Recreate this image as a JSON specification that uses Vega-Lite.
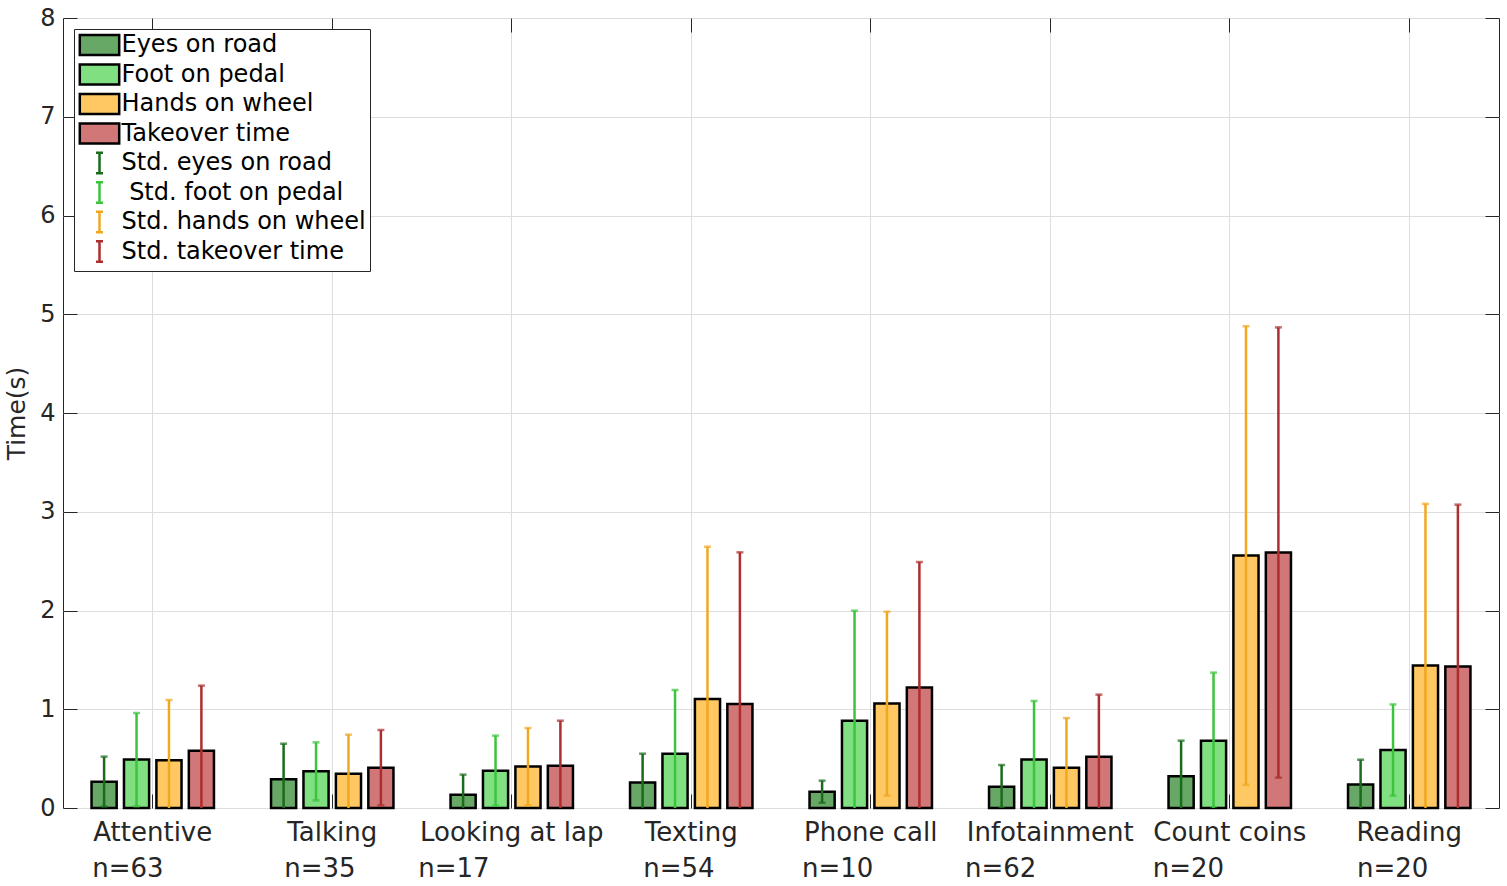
{
  "$schema": "https://vega.github.io/schema/vega-lite/v6.json",
  "width": 1436,
  "height": 790,
  "autosize": "none",
  "padding": {"left": 63, "top": 18, "right": 8, "bottom": 78},
  "background": "white",
  "data": {
    "values": [
      {"task": "Attentive", "n": 63, "measure": "Eyes on road", "mean": 0.267, "lo": 0.014, "hi": 0.52},
      {"task": "Attentive", "n": 63, "measure": "Foot on pedal", "mean": 0.49, "lo": 0.018, "hi": 0.962},
      {"task": "Attentive", "n": 63, "measure": "Hands on wheel", "mean": 0.483, "lo": -0.128, "hi": 1.094},
      {"task": "Attentive", "n": 63, "measure": "Takeover time", "mean": 0.581, "lo": -0.077, "hi": 1.239},
      {"task": "Talking", "n": 35, "measure": "Eyes on road", "mean": 0.29, "lo": -0.071, "hi": 0.651},
      {"task": "Talking", "n": 35, "measure": "Foot on pedal", "mean": 0.371, "lo": 0.077, "hi": 0.665},
      {"task": "Talking", "n": 35, "measure": "Hands on wheel", "mean": 0.348, "lo": -0.047, "hi": 0.743},
      {"task": "Talking", "n": 35, "measure": "Takeover time", "mean": 0.408, "lo": 0.026, "hi": 0.79},
      {"task": "Looking at lap", "n": 17, "measure": "Eyes on road", "mean": 0.135, "lo": -0.068, "hi": 0.338},
      {"task": "Looking at lap", "n": 17, "measure": "Foot on pedal", "mean": 0.378, "lo": 0.023, "hi": 0.733},
      {"task": "Looking at lap", "n": 17, "measure": "Hands on wheel", "mean": 0.419, "lo": 0.028, "hi": 0.81},
      {"task": "Looking at lap", "n": 17, "measure": "Takeover time", "mean": 0.429, "lo": -0.026, "hi": 0.884},
      {"task": "Texting", "n": 54, "measure": "Eyes on road", "mean": 0.257, "lo": -0.036, "hi": 0.55},
      {"task": "Texting", "n": 54, "measure": "Foot on pedal", "mean": 0.55, "lo": -0.095, "hi": 1.195},
      {"task": "Texting", "n": 54, "measure": "Hands on wheel", "mean": 1.104, "lo": -0.438, "hi": 2.646},
      {"task": "Texting", "n": 54, "measure": "Takeover time", "mean": 1.053, "lo": -0.483, "hi": 2.589},
      {"task": "Phone call", "n": 10, "measure": "Eyes on road", "mean": 0.165, "lo": 0.053, "hi": 0.277},
      {"task": "Phone call", "n": 10, "measure": "Foot on pedal", "mean": 0.884, "lo": -0.23, "hi": 1.998},
      {"task": "Phone call", "n": 10, "measure": "Hands on wheel", "mean": 1.057, "lo": 0.126, "hi": 1.988},
      {"task": "Phone call", "n": 10, "measure": "Takeover time", "mean": 1.219, "lo": -0.053, "hi": 2.491},
      {"task": "Infotainment", "n": 62, "measure": "Eyes on road", "mean": 0.216, "lo": -0.003, "hi": 0.435},
      {"task": "Infotainment", "n": 62, "measure": "Foot on pedal", "mean": 0.49, "lo": -0.104, "hi": 1.084},
      {"task": "Infotainment", "n": 62, "measure": "Hands on wheel", "mean": 0.408, "lo": -0.095, "hi": 0.911},
      {"task": "Infotainment", "n": 62, "measure": "Takeover time", "mean": 0.52, "lo": -0.108, "hi": 1.148},
      {"task": "Count coins", "n": 20, "measure": "Eyes on road", "mean": 0.322, "lo": -0.038, "hi": 0.682},
      {"task": "Count coins", "n": 20, "measure": "Foot on pedal", "mean": 0.682, "lo": -0.007, "hi": 1.371},
      {"task": "Count coins", "n": 20, "measure": "Hands on wheel", "mean": 2.557, "lo": 0.235, "hi": 4.879},
      {"task": "Count coins", "n": 20, "measure": "Takeover time", "mean": 2.587, "lo": 0.307, "hi": 4.867},
      {"task": "Reading", "n": 20, "measure": "Eyes on road", "mean": 0.239, "lo": -0.011, "hi": 0.489},
      {"task": "Reading", "n": 20, "measure": "Foot on pedal", "mean": 0.587, "lo": 0.125, "hi": 1.049},
      {"task": "Reading", "n": 20, "measure": "Hands on wheel", "mean": 1.443, "lo": -0.194, "hi": 3.08},
      {"task": "Reading", "n": 20, "measure": "Takeover time", "mean": 1.432, "lo": -0.208, "hi": 3.072}
    ]
  },
  "transform": [
    {"calculate": "datum.task + '|n=' + datum.n", "as": "group"},
    {"calculate": "'Std. ' + lower(datum.measure)", "as": "std"}
  ],
  "layer": [
    {
      "mark": {"type": "bar", "strokeWidth": 2.5},
      "encoding": {
        "x": {
          "field": "group",
          "type": "nominal",
          "sort": null,
          "scale": {"paddingInner": 0, "paddingOuter": 0},
          "axis": {
            "orient": "bottom",
            "title": null,
            "labelAngle": 0,
            "labelFont": "DejaVu Sans",
            "labelFontSize": 26,
            "labelColor": "#262626",
            "labelLineHeight": 36,
            "labelPadding": 25,
            "labelBaseline": "top",
            "labelLimit": 500,
            "labelExpr": "[split(datum.label, '|')[0], pad(split(datum.label, '|')[1], length(split(datum.label, '|')[1]) + [6, 3, 14, 3, 8, 12, 10, 4][indexof(['Attentive', 'Talking', 'Looking at lap', 'Texting', 'Phone call', 'Infotainment', 'Count coins', 'Reading'], split(datum.label, '|')[0])], '\\u00a0') + '\\u200b']",
            "domain": false,
            "tickSize": -14,
            "tickColor": "#262626",
            "grid": true,
            "gridColor": "#dedede"
          }
        },
        "xOffset": {
          "field": "measure",
          "type": "nominal",
          "sort": ["Eyes on road", "Foot on pedal", "Hands on wheel", "Takeover time"],
          "scale": {"paddingInner": 0.225, "paddingOuter": 0.88}
        },
        "y": {
          "field": "mean",
          "type": "quantitative",
          "scale": {"domain": [0, 8], "nice": false},
          "axis": {
            "orient": "left",
            "values": [0, 1, 2, 3, 4, 5, 6, 7, 8],
            "title": "Time(s)",
            "titleFont": "DejaVu Sans",
            "titleFontSize": 25,
            "titleFontWeight": "normal",
            "titleColor": "#262626",
            "titlePadding": 10,
            "labelFont": "DejaVu Sans",
            "labelFontSize": 24,
            "labelColor": "#262626",
            "labelPadding": 22,
            "domain": false,
            "tickSize": -14,
            "tickColor": "#262626",
            "grid": true,
            "gridColor": "#dedede"
          }
        },
        "fill": {
          "field": "measure",
          "type": "nominal",
          "scale": {
            "domain": ["Eyes on road", "Foot on pedal", "Hands on wheel", "Takeover time", "Std. eyes on road", "Std. foot on pedal", "Std. hands on wheel", "Std. takeover time"],
            "range": ["#67a867", "#80df80", "#ffc862", "#d27777", "#1a6b1a", "#3cc43c", "#f0a820", "#ad2e2e"]
          },
          "legend": {
            "title": null,
            "orient": "top-left",
            "offset": 11,
            "padding": 4,
            "fillColor": "white",
            "strokeColor": "#262626",
            "labelFont": "DejaVu Sans",
            "labelFontSize": 24,
            "labelColor": "black",
            "labelOffset": 10,
            "labelLimit": 500,
            "rowPadding": -2.5,
            "symbolSize": 400,
            "symbolOffset": 9.5,
            "symbolStrokeWidth": 2.5,
            "labelExpr": "datum.value === 'Std. foot on pedal' ? '\\u200b\\u00a0' + datum.label : datum.label",
            "encoding": {
              "symbols": {
                "shape": {"value": {"expr": "indexof(datum.value, 'Std.') === 0 ? 'M-0.35,-1.02H0.35M0,-1.02V1.02M-0.35,1.02H0.35' : 'M-1.97,-1.01H1.97V1.01H-1.97Z'"}},
                "opacity": {"value": 1}
              }
            }
          }
        },
        "stroke": {
          "field": "measure",
          "type": "nominal",
          "scale": {
            "domain": ["Eyes on road", "Foot on pedal", "Hands on wheel", "Takeover time", "Std. eyes on road", "Std. foot on pedal", "Std. hands on wheel", "Std. takeover time"],
            "range": ["black", "black", "black", "black", "#1a6b1a", "#3cc43c", "#f0a820", "#ad2e2e"]
          },
          "legend": {
            "title": null,
            "orient": "top-left",
            "offset": 11,
            "padding": 4,
            "fillColor": "white",
            "strokeColor": "#262626",
            "labelFont": "DejaVu Sans",
            "labelFontSize": 24,
            "labelColor": "black",
            "labelOffset": 10,
            "labelLimit": 500,
            "rowPadding": -2.5,
            "symbolSize": 400,
            "symbolOffset": 9.5,
            "symbolStrokeWidth": 2.5,
            "labelExpr": "datum.value === 'Std. foot on pedal' ? '\\u200b\\u00a0' + datum.label : datum.label",
            "encoding": {
              "symbols": {
                "shape": {"value": {"expr": "indexof(datum.value, 'Std.') === 0 ? 'M-0.35,-1.02H0.35M0,-1.02V1.02M-0.35,1.02H0.35' : 'M-1.97,-1.01H1.97V1.01H-1.97Z'"}},
                "opacity": {"value": 1}
              }
            }
          }
        }
      }
    },
    {
      "mark": {"type": "rule", "strokeWidth": 2.5, "clip": true},
      "encoding": {
        "x": {
          "field": "group",
          "type": "nominal",
          "sort": null,
          "axis": {"orient": "top", "title": null, "labels": false, "domain": false, "grid": false, "tickSize": -14, "tickColor": "#262626"}
        },
        "xOffset": {"field": "measure", "type": "nominal"},
        "y": {
          "field": "lo",
          "type": "quantitative",
          "axis": {"orient": "right", "title": null, "labels": false, "domain": false, "grid": false, "values": [0, 1, 2, 3, 4, 5, 6, 7, 8], "tickSize": -14, "tickColor": "#262626"}
        },
        "y2": {"field": "hi"},
        "stroke": {"field": "std", "type": "nominal", "legend": null}
      }
    },
    {
      "mark": {"type": "tick", "size": 7, "thickness": 2.5, "clip": true},
      "encoding": {
        "x": {"field": "group", "type": "nominal", "sort": null, "axis": null},
        "xOffset": {"field": "measure", "type": "nominal"},
        "y": {"field": "hi", "type": "quantitative", "axis": null},
        "fill": {"field": "std", "type": "nominal", "legend": null}
      }
    },
    {
      "mark": {"type": "tick", "size": 7, "thickness": 2.5, "clip": true},
      "encoding": {
        "x": {"field": "group", "type": "nominal", "sort": null, "axis": null},
        "xOffset": {"field": "measure", "type": "nominal"},
        "y": {"field": "lo", "type": "quantitative", "axis": null},
        "fill": {"field": "std", "type": "nominal", "legend": null}
      }
    }
  ],
  "resolve": {"axis": {"x": "independent", "y": "independent"}},
  "config": {
    "view": {"stroke": "#262626", "strokeWidth": 1},
    "font": "DejaVu Sans"
  }
}
